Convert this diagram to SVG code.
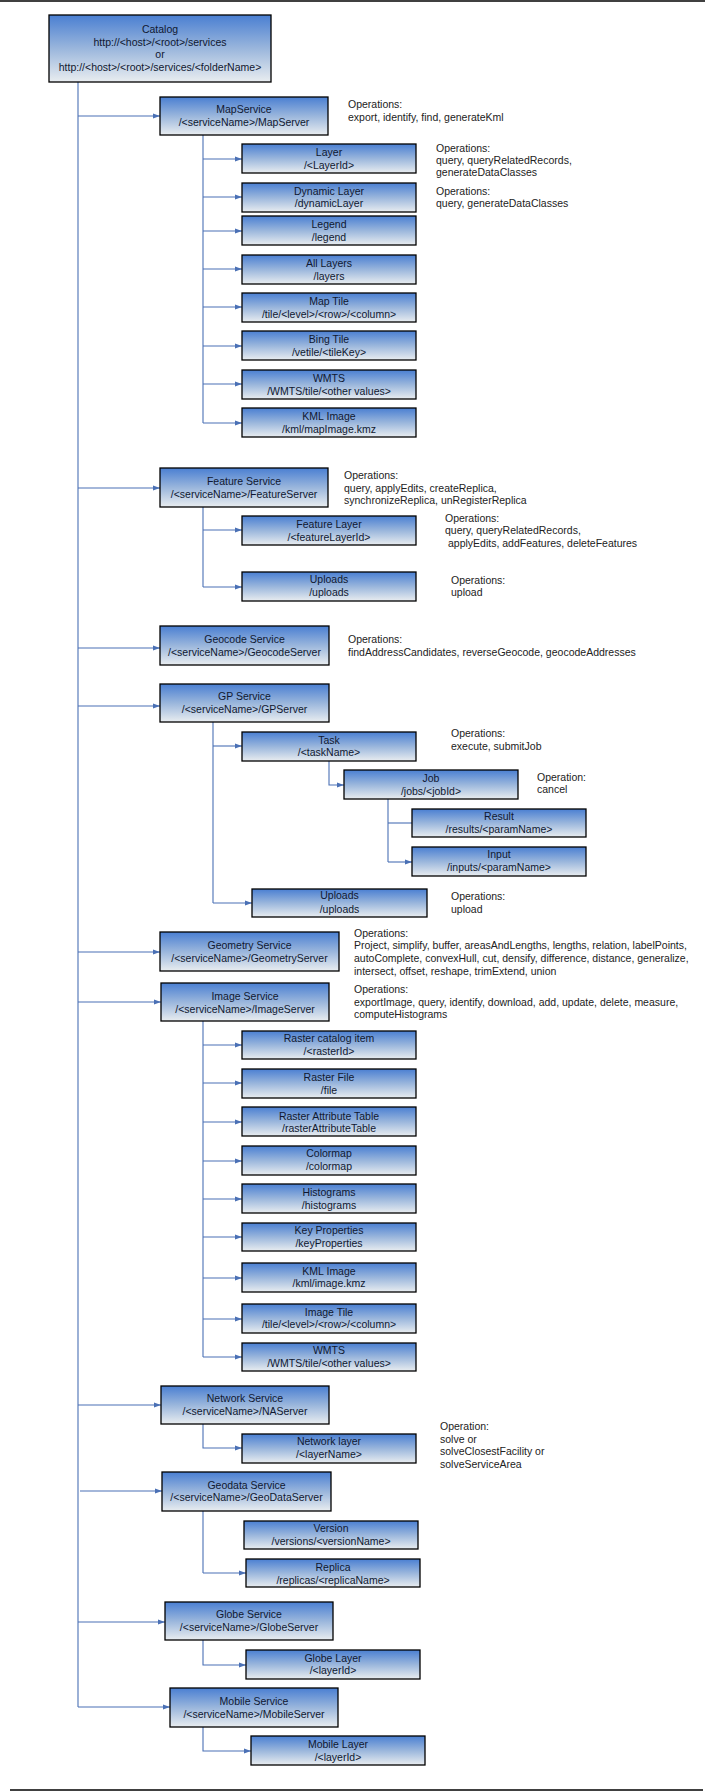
<svg xmlns="http://www.w3.org/2000/svg" width="712" height="1792" viewBox="0 0 712 1792">
<style>
.bx{fill:url(#g);stroke:#000;stroke-width:1.3}
.t{font-family:"Liberation Sans",Arial,sans-serif;font-size:10.5px;fill:#101830;text-anchor:middle}
.o{font-family:"Liberation Sans",Arial,sans-serif;font-size:10.5px;fill:#222}
.c{fill:none;stroke:#4a70b5;stroke-width:1.1}
.a{marker-end:url(#ah)}
.rule{stroke:#000;stroke-width:1.6}
</style>
<defs>
<linearGradient id="g" x1="0" y1="0" x2="0" y2="1">
<stop offset="0" stop-color="#4a7fd2"/>
<stop offset="0.5" stop-color="#9ab6dc"/>
<stop offset="1" stop-color="#e9edf0"/>
</linearGradient>
<marker id="ah" markerUnits="userSpaceOnUse" markerWidth="8" markerHeight="6" refX="7" refY="3" orient="auto">
<path d="M0,0.5 L7,3 L0,5.5 z" fill="#4a70b5"/>
</marker>
</defs>
<rect width="712" height="1792" fill="#fff"/>
<line class="rule" x1="0" y1="1" x2="705" y2="1"/>
<line class="rule" x1="10" y1="1790" x2="703" y2="1790"/>

<g id="connectors">
<path class="c" d="M78,82 V1707"/>
<path class="c a" d="M78,116 H160"/>
<path class="c a" d="M78,488 H160"/>
<path class="c a" d="M78,648 H160"/>
<path class="c a" d="M78,706 H160"/>
<path class="c a" d="M78,952 H160"/>
<path class="c a" d="M78,1002 H161"/>
<path class="c a" d="M78,1405 H161"/>
<path class="c a" d="M80,1491 H162"/>
<path class="c a" d="M78,1622 H165"/>
<path class="c a" d="M78,1707 H170"/>
<path class="c" d="M203,135 V423"/>
<path class="c a" d="M203,159 H242"/>
<path class="c a" d="M203,197 H242"/>
<path class="c a" d="M203,231 H242"/>
<path class="c a" d="M203,269 H242"/>
<path class="c a" d="M203,307 H242"/>
<path class="c a" d="M203,346 H242"/>
<path class="c a" d="M203,384 H242"/>
<path class="c a" d="M203,423 H242"/>
<path class="c" d="M203,507 V587"/>
<path class="c a" d="M203,530 H242"/>
<path class="c a" d="M203,587 H242"/>
<path class="c" d="M213,722 V903"/>
<path class="c a" d="M213,746 H242"/>
<path class="c a" d="M213,903 H252"/>
<path class="c a" d="M329,761 V785 H344"/>
<path class="c" d="M388,799 V862"/>
<path class="c" d="M388,823 H412"/>
<path class="c a" d="M388,862 H412"/>
<path class="c" d="M203,1021 V1357"/>
<path class="c a" d="M203,1045 H242"/>
<path class="c a" d="M203,1083 H242"/>
<path class="c a" d="M203,1122 H242"/>
<path class="c a" d="M203,1161 H242"/>
<path class="c a" d="M203,1199 H242"/>
<path class="c a" d="M203,1237 H242"/>
<path class="c a" d="M203,1278 H242"/>
<path class="c a" d="M203,1319 H242"/>
<path class="c a" d="M203,1357 H242"/>
<path class="c a" d="M203,1424 V1448 H242"/>
<path class="c" d="M203,1511 V1573"/>
<path class="c a" d="M203,1573 H246"/>
<path class="c a" d="M203,1640 V1665 H246"/>
<path class="c a" d="M203,1727 V1751 H251"/>
</g>

<g id="catalog">
<rect class="bx" x="49" y="15" width="222" height="67"/>
<text class="t" x="160" y="32.5">Catalog</text>
<text class="t" x="160" y="45.5">http://&lt;host&gt;/&lt;root&gt;/services</text>
<text class="t" x="160" y="58">or</text>
<text class="t" x="160" y="70.5">http://&lt;host&gt;/&lt;root&gt;/services/&lt;folderName&gt;</text>
</g>

<g id="mapservice">
<rect class="bx" x="160" y="97" width="168" height="38"/>
<text class="t" x="244" y="112.5">MapService</text>
<text class="t" x="244" y="125.5">/&lt;serviceName&gt;/MapServer</text>
<text class="o" x="348" y="107.5">Operations:</text>
<text class="o" x="348" y="120.5">export, identify, find, generateKml</text>
</g>
<g id="map-layer">
<rect class="bx" x="242" y="144" width="174" height="29"/>
<text class="t" x="329" y="155.5">Layer</text>
<text class="t" x="329" y="168.5">/&lt;LayerId&gt;</text>
<text class="o" x="436" y="151.5">Operations:</text>
<text class="o" x="436" y="163.5">query, queryRelatedRecords,</text>
<text class="o" x="436" y="176">generateDataClasses</text>
</g>
<g id="map-dynamiclayer">
<rect class="bx" x="242" y="183" width="174" height="29"/>
<text class="t" x="329" y="194.5">Dynamic Layer</text>
<text class="t" x="329" y="207">/dynamicLayer</text>
<text class="o" x="436" y="194.5">Operations:</text>
<text class="o" x="436" y="207">query, generateDataClasses</text>
</g>
<g id="map-legend">
<rect class="bx" x="242" y="216" width="174" height="29"/>
<text class="t" x="329" y="227.5">Legend</text>
<text class="t" x="329" y="240.5">/legend</text>
</g>
<g id="map-alllayers">
<rect class="bx" x="242" y="255" width="174" height="29"/>
<text class="t" x="329" y="266.5">All Layers</text>
<text class="t" x="329" y="279.5">/layers</text>
</g>
<g id="map-maptile">
<rect class="bx" x="242" y="293" width="174" height="29"/>
<text class="t" x="329" y="304.5">Map Tile</text>
<text class="t" x="329" y="317.5">/tile/&lt;level&gt;/&lt;row&gt;/&lt;column&gt;</text>
</g>
<g id="map-bingtile">
<rect class="bx" x="242" y="331" width="174" height="29"/>
<text class="t" x="329" y="342.5">Bing Tile</text>
<text class="t" x="329" y="355.5">/vetile/&lt;tileKey&gt;</text>
</g>
<g id="map-wmts">
<rect class="bx" x="242" y="370" width="174" height="29"/>
<text class="t" x="329" y="381.5">WMTS</text>
<text class="t" x="329" y="394.5">/WMTS/tile/&lt;other values&gt;</text>
</g>
<g id="map-kml">
<rect class="bx" x="242" y="408" width="174" height="29"/>
<text class="t" x="329" y="419.5">KML Image</text>
<text class="t" x="329" y="432.5">/kml/mapImage.kmz</text>
</g>

<g id="featureservice">
<rect class="bx" x="160" y="468" width="168" height="39"/>
<text class="t" x="244" y="484.5">Feature Service</text>
<text class="t" x="244" y="497.5">/&lt;serviceName&gt;/FeatureServer</text>
<text class="o" x="344" y="478.5">Operations:</text>
<text class="o" x="344" y="491.5">query, applyEdits, createReplica,</text>
<text class="o" x="344" y="504">synchronizeReplica, unRegisterReplica</text>
</g>
<g id="feature-layer">
<rect class="bx" x="242" y="516" width="174" height="29"/>
<text class="t" x="329" y="527.5">Feature Layer</text>
<text class="t" x="329" y="540.5">/&lt;featureLayerId&gt;</text>
<text class="o" x="445" y="521.5">Operations:</text>
<text class="o" x="445" y="533.5">query, queryRelatedRecords,</text>
<text class="o" x="448" y="546.5">applyEdits, addFeatures, deleteFeatures</text>
</g>
<g id="feature-uploads">
<rect class="bx" x="242" y="572" width="174" height="29"/>
<text class="t" x="329" y="583">Uploads</text>
<text class="t" x="329" y="596">/uploads</text>
<text class="o" x="451" y="583.5">Operations:</text>
<text class="o" x="451" y="596">upload</text>
</g>

<g id="geocodeservice">
<rect class="bx" x="160" y="626" width="169" height="39"/>
<text class="t" x="244.5" y="642.5">Geocode Service</text>
<text class="t" x="244.5" y="655.5">/&lt;serviceName&gt;/GeocodeServer</text>
<text class="o" x="348" y="642.5">Operations:</text>
<text class="o" x="348" y="655.5">findAddressCandidates, reverseGeocode, geocodeAddresses</text>
</g>

<g id="gpservice">
<rect class="bx" x="160" y="684" width="169" height="38"/>
<text class="t" x="244.5" y="699.5">GP Service</text>
<text class="t" x="244.5" y="712.5">/&lt;serviceName&gt;/GPServer</text>
</g>
<g id="gp-task">
<rect class="bx" x="242" y="732" width="174" height="29"/>
<text class="t" x="329" y="743.5">Task</text>
<text class="t" x="329" y="756">/&lt;taskName&gt;</text>
<text class="o" x="451" y="736.5">Operations:</text>
<text class="o" x="451" y="749.5">execute, submitJob</text>
</g>
<g id="gp-job">
<rect class="bx" x="344" y="770" width="174" height="29"/>
<text class="t" x="431" y="781.5">Job</text>
<text class="t" x="431" y="794.5">/jobs/&lt;jobId&gt;</text>
<text class="o" x="537" y="780.5">Operation:</text>
<text class="o" x="537" y="792.5">cancel</text>
</g>
<g id="gp-result">
<rect class="bx" x="412" y="809" width="174" height="28"/>
<text class="t" x="499" y="819.5">Result</text>
<text class="t" x="499" y="832.5">/results/&lt;paramName&gt;</text>
</g>
<g id="gp-input">
<rect class="bx" x="412" y="847" width="174" height="29"/>
<text class="t" x="499" y="857.5">Input</text>
<text class="t" x="499" y="870.5">/inputs/&lt;paramName&gt;</text>
</g>
<g id="gp-uploads">
<rect class="bx" x="252" y="889" width="175" height="28"/>
<text class="t" x="339.5" y="899">Uploads</text>
<text class="t" x="339.5" y="912.5">/uploads</text>
<text class="o" x="451" y="899.5">Operations:</text>
<text class="o" x="451" y="912.5">upload</text>
</g>

<g id="geometryservice">
<rect class="bx" x="160" y="932" width="179" height="39"/>
<text class="t" x="249.5" y="948.5">Geometry Service</text>
<text class="t" x="249.5" y="961.5">/&lt;serviceName&gt;/GeometryServer</text>
<text class="o" x="354" y="936.5">Operations:</text>
<text class="o" x="354" y="949">Project, simplify, buffer, areasAndLengths, lengths, relation, labelPoints,</text>
<text class="o" x="354" y="961.5">autoComplete, convexHull, cut, densify, difference, distance, generalize,</text>
<text class="o" x="354" y="974.5">intersect, offset, reshape, trimExtend, union</text>
</g>

<g id="imageservice">
<rect class="bx" x="161" y="983" width="168" height="38"/>
<text class="t" x="245" y="999.5">Image Service</text>
<text class="t" x="245" y="1012.5">/&lt;serviceName&gt;/ImageServer</text>
<text class="o" x="354" y="992.5">Operations:</text>
<text class="o" x="354" y="1005.5">exportImage, query, identify, download, add, update, delete, measure,</text>
<text class="o" x="354" y="1017.5">computeHistograms</text>
</g>
<g id="img-raster">
<rect class="bx" x="242" y="1031" width="174" height="28"/>
<text class="t" x="329" y="1041.5">Raster catalog item</text>
<text class="t" x="329" y="1054.5">/&lt;rasterId&gt;</text>
</g>
<g id="img-file">
<rect class="bx" x="242" y="1069" width="174" height="29"/>
<text class="t" x="329" y="1080.5">Raster File</text>
<text class="t" x="329" y="1093.5">/file</text>
</g>
<g id="img-rat">
<rect class="bx" x="242" y="1107" width="174" height="29"/>
<text class="t" x="329" y="1119.5">Raster Attribute Table</text>
<text class="t" x="329" y="1131.5">/rasterAttributeTable</text>
</g>
<g id="img-colormap">
<rect class="bx" x="242" y="1146" width="174" height="29"/>
<text class="t" x="329" y="1156.5">Colormap</text>
<text class="t" x="329" y="1169.5">/colormap</text>
</g>
<g id="img-histograms">
<rect class="bx" x="242" y="1184" width="174" height="29"/>
<text class="t" x="329" y="1195.5">Histograms</text>
<text class="t" x="329" y="1208.5">/histograms</text>
</g>
<g id="img-keyprops">
<rect class="bx" x="242" y="1223" width="174" height="28"/>
<text class="t" x="329" y="1233.5">Key Properties</text>
<text class="t" x="329" y="1246.5">/keyProperties</text>
</g>
<g id="img-kml">
<rect class="bx" x="242" y="1263" width="174" height="29"/>
<text class="t" x="329" y="1274.5">KML Image</text>
<text class="t" x="329" y="1287">/kml/image.kmz</text>
</g>
<g id="img-tile">
<rect class="bx" x="242" y="1304" width="174" height="29"/>
<text class="t" x="329" y="1315.5">Image Tile</text>
<text class="t" x="329" y="1328">/tile/&lt;level&gt;/&lt;row&gt;/&lt;column&gt;</text>
</g>
<g id="img-wmts">
<rect class="bx" x="242" y="1343" width="174" height="28"/>
<text class="t" x="329" y="1353.5">WMTS</text>
<text class="t" x="329" y="1366.5">/WMTS/tile/&lt;other values&gt;</text>
</g>

<g id="networkservice">
<rect class="bx" x="161" y="1386" width="168" height="38"/>
<text class="t" x="245" y="1401.5">Network Service</text>
<text class="t" x="245" y="1414.5">/&lt;serviceName&gt;/NAServer</text>
</g>
<g id="net-layer">
<rect class="bx" x="242" y="1434" width="174" height="29"/>
<text class="t" x="329" y="1444.5">Network layer</text>
<text class="t" x="329" y="1457.5">/&lt;layerName&gt;</text>
<text class="o" x="440" y="1429.5">Operation:</text>
<text class="o" x="440" y="1442.5">solve or</text>
<text class="o" x="440" y="1454.5">solveClosestFacility or</text>
<text class="o" x="440" y="1467.5">solveServiceArea</text>
</g>

<g id="geodataservice">
<rect class="bx" x="162" y="1472" width="169" height="39"/>
<text class="t" x="246.5" y="1488.5">Geodata Service</text>
<text class="t" x="246.5" y="1500.5">/&lt;serviceName&gt;/GeoDataServer</text>
</g>
<g id="gd-version">
<rect class="bx" x="244" y="1521" width="174" height="28"/>
<text class="t" x="331" y="1531.5">Version</text>
<text class="t" x="331" y="1544.5">/versions/&lt;versionName&gt;</text>
</g>
<g id="gd-replica">
<rect class="bx" x="246" y="1559" width="174" height="28"/>
<text class="t" x="333" y="1570.5">Replica</text>
<text class="t" x="333" y="1583.5">/replicas/&lt;replicaName&gt;</text>
</g>

<g id="globeservice">
<rect class="bx" x="165" y="1602" width="168" height="38"/>
<text class="t" x="249" y="1617.5">Globe Service</text>
<text class="t" x="249" y="1630.5">/&lt;serviceName&gt;/GlobeServer</text>
</g>
<g id="globe-layer">
<rect class="bx" x="246" y="1650" width="174" height="29"/>
<text class="t" x="333" y="1661.5">Globe Layer</text>
<text class="t" x="333" y="1673.5">/&lt;layerId&gt;</text>
</g>

<g id="mobileservice">
<rect class="bx" x="170" y="1688" width="168" height="39"/>
<text class="t" x="254" y="1704.5">Mobile Service</text>
<text class="t" x="254" y="1717.5">/&lt;serviceName&gt;/MobileServer</text>
</g>
<g id="mobile-layer">
<rect class="bx" x="251" y="1736" width="174" height="29"/>
<text class="t" x="338" y="1747.5">Mobile Layer</text>
<text class="t" x="338" y="1760.5">/&lt;layerId&gt;</text>
</g>
</svg>
